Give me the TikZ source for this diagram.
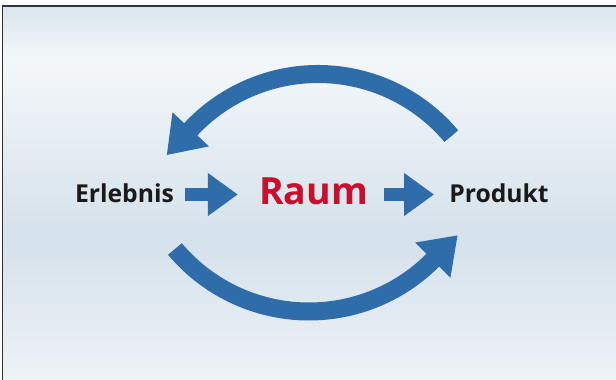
\documentclass[tikz,border=0pt]{standalone}
\usepackage{fontspec}
\setmainfont{Open Sans}
\usetikzlibrary{calc,arrows.meta}
\definecolor{arrowblue}{HTML}{2F6DAA}
\definecolor{raumred}{HTML}{C8102E}
\definecolor{txtblack}{HTML}{1A1A1A}
\definecolor{bgA}{HTML}{DAE5EE}
\definecolor{bgB}{HTML}{F3F7FA}
\definecolor{bgC}{HTML}{D5E1EB}
\definecolor{bgD}{HTML}{EEF3F7}
\definecolor{framec}{HTML}{333333}
\pgfdeclareverticalshading{bgshade}{100bp}{color(0bp)=(bgD); color(25bp)=(bgD); color(43.8bp)=(bgC); color(67.9bp)=(bgB); color(75bp)=(bgA); color(100bp)=(bgA)}
\tikzset{
  label/.style={inner sep=0pt, font=\bfseries, text depth=0pt},
  flow/.style={draw=arrowblue, line width=13pt, -{Triangle[length=30pt,width=41pt]}},
  cyclearrow/.style={fill=arrowblue},
}
\begin{document}
\begin{tikzpicture}[x=1pt,y=1pt]
\useasboundingbox (0,0) rectangle (616,380);
% background
\fill[white] (0,0) rectangle (616,380);
\shade[shading=bgshade] (3,0) rectangle (616,374);
\draw[framec, line width=1.1pt] (2.5,0) -- (2.5,374) -- (616,374);
% labels
\node[label, text height=16pt, font=\bfseries\fontsize{24.7}{28}\selectfont, text=txtblack] (erl) at (124.5,185.5) {Erlebnis};
\node[label, text height=20pt, font=\bfseries\fontsize{37.5}{42}\selectfont, text=raumred] (raum) at (313.5,185.5) {Raum};
\node[label, text height=16pt, font=\bfseries\fontsize{24.7}{28}\selectfont, text=txtblack] (prod) at (499,185.5) {Produkt};
% straight arrows
\draw[flow, shorten <=11pt, shorten >=21pt] (erl) -- (raum);
\draw[flow, shorten <=16pt, shorten >=15pt] (raum) -- (prod);
% cycle arrows
\coordinate (c1) at (318,132);
\coordinate (c2) at (309,243.5);
\fill[cyclearrow] ($(c1)+(40:183pt)$) arc[start angle=40, end angle=137, radius=183pt]
  -- ($(c1)+(137:199pt)$) -- ($(c1)+(137:174pt)+(227:35pt)$) -- ($(c1)+(137:149pt)$)
  -- ($(c1)+(137:165pt)$) arc[start angle=137, end angle=40, radius=165pt] -- cycle;
\fill[cyclearrow] ($(c2)+(220:184pt)$) arc[start angle=220, end angle=315, radius=184pt]
  -- ($(c2)+(315:200pt)$) -- ($(c2)+(315:175pt)+(45:35pt)$) -- ($(c2)+(315:150pt)$)
  -- ($(c2)+(315:166pt)$) arc[start angle=315, end angle=220, radius=166pt] -- cycle;
\end{tikzpicture}
\end{document}
